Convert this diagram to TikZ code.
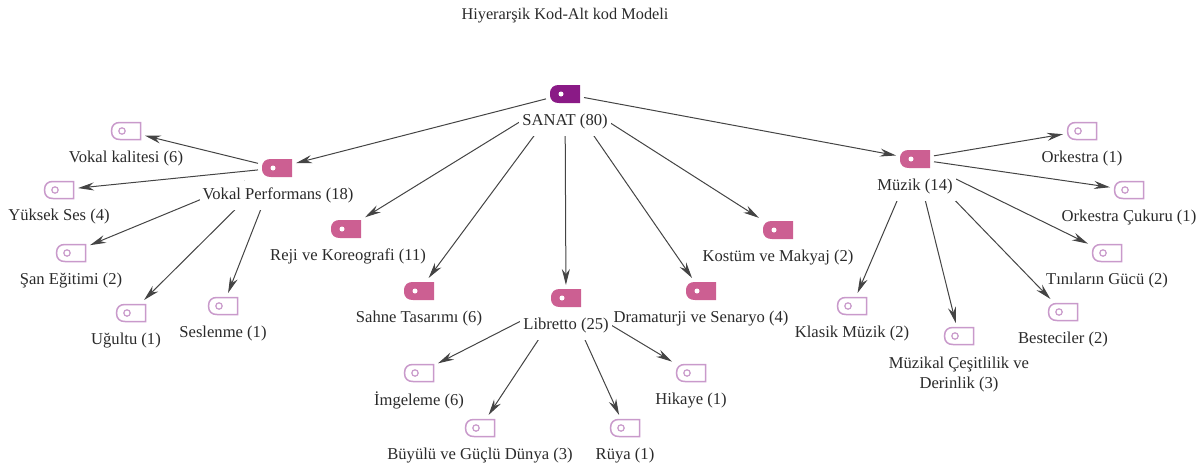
\documentclass[tikz,border=0pt]{standalone}
\usepackage{fontspec}
\setmainfont{Liberation Serif}
\usetikzlibrary{arrows.meta,backgrounds}
\definecolor{rootc}{HTML}{8A1A86}
\definecolor{midc}{HTML}{CC5F92}
\definecolor{leafc}{HTML}{C99ACB}
\definecolor{edgec}{HTML}{444444}
\definecolor{txtc}{HTML}{2A2A2A}
\tikzset{
 x=1pt,y=-1pt,
 iconbox/.style={minimum width=32pt,minimum height=20pt,inner sep=0pt,outer sep=3pt},
 lab/.style={font=\fontsize{16.6}{19.5}\selectfont,text=txtc,inner xsep=3pt,inner ysep=2pt,align=center,yshift=-1.5pt},
 parentlab/.style={lab,fill=white,inner ysep=7pt},
 edge/.style={draw=edgec,line width=1pt,-{Stealth[length=16pt,width=8pt]}},
 leaftag/.style={draw=leafc,line width=1.5pt,fill=white},
}
\newcommand{\solidtag}[4]{% name,x,y,colour
 \node[iconbox] (#1) at (#2,#3) {};
 \fill[#4] (#2-15,#3) .. controls (#2-15,#3-7) and (#2-11,#3-9) .. (#2-6,#3-9) -- (#2+15,#3-9) -- (#2+15,#3+9) -- (#2-6,#3+9) .. controls (#2-11,#3+9) and (#2-15,#3+7) .. (#2-15,#3) -- cycle;
 \fill[white] (#2-4,#3) circle (2.5);
}
\newcommand{\parentgap}[4]{\fill[white] (#1-#3,#2+#4) rectangle (#1+#3,#2+16);}
\newcommand{\outlinetag}[3]{% name,x,y
 \node[iconbox] (#1) at (#2,#3) {};
 \draw[leaftag] (#2-14.5,#3) .. controls (#2-14.5,#3-6) and (#2-11,#3-8.5) .. (#2-6,#3-8.5) -- (#2+14.5,#3-8.5) -- (#2+14.5,#3+8.5) -- (#2-6,#3+8.5) .. controls (#2-11,#3+8.5) and (#2-14.5,#3+6) .. (#2-14.5,#3) -- cycle;
 \draw[leafc,line width=1.2pt] (#2-4,#3) circle (3.2);
}
\begin{document}
\begin{tikzpicture}
\useasboundingbox (0,0) rectangle (1203,469);
\node[font=\fontsize{16.3}{19}\selectfont,text=txtc] (title) at (565,16) {Hiyerarşik Kod-Alt kod Modeli};
% white gaps between parent icons and their labels
\parentgap{565}{94}{24}{7.5}
\parentgap{277}{168}{32}{5.5}
\parentgap{566}{298}{32}{5.5}
\parentgap{915}{159}{32}{5.5}
% labels
\node[parentlab] (lS) at (565,120) {SANAT (80)};
\node[parentlab] (lV) at (278,194) {Vokal Performans (18)};
\node[lab] (lV1) at (126,157) {Vokal kalitesi (6)};
\node[lab] (lV2) at (59,215) {Yüksek Ses (4)};
\node[lab] (lV3) at (71,279) {Şan Eğitimi (2)};
\node[lab] (lV4) at (126,339) {Uğultu (1)};
\node[lab] (lV5) at (223,332) {Seslenme (1)};
\node[lab] (lR) at (348,255) {Reji ve Koreografi (11)};
\node[lab] (lSa) at (419,317) {Sahne Tasarımı (6)};
\node[parentlab] (lL) at (566,324) {Libretto (25)};
\node[lab] (lD) at (701,317) {Dramaturji ve Senaryo (4)};
\node[lab] (lK) at (778,256) {Kostüm ve Makyaj (2)};
\node[parentlab] (lM) at (915,185) {Müzik (14)};
\node[lab] (lM1) at (1082,157) {Orkestra (1)};
\node[lab] (lM2) at (1129,216) {Orkestra Çukuru (1)};
\node[lab] (lM3) at (1107,279) {Tınıların Gücü (2)};
\node[lab] (lM4) at (1063,338) {Besteciler (2)};
\node[lab] (lM5) at (959,373) {Müzikal Çeşitlilik ve\\Derinlik (3)};
\node[lab] (lM6) at (852,332) {Klasik Müzik (2)};
\node[lab] (lL1) at (419,399) {İmgeleme (6)};
\node[lab] (lL2) at (480,454) {Büyülü ve Güçlü Dünya (3)};
\node[lab] (lL3) at (625,454) {Rüya (1)};
\node[lab] (lL4) at (691,399) {Hikaye (1)};
% icons
\solidtag{S}{565}{94}{rootc}
\solidtag{V}{277}{168}{midc}
\solidtag{R}{346}{229}{midc}
\solidtag{Sa}{419}{291}{midc}
\solidtag{L}{566}{298}{midc}
\solidtag{D}{701}{291}{midc}
\solidtag{K}{778}{230}{midc}
\solidtag{M}{915}{159}{midc}
\outlinetag{V1}{126}{131}
\outlinetag{V2}{59}{190}
\outlinetag{V3}{71}{253}
\outlinetag{V4}{131}{313}
\outlinetag{V5}{223}{306}
\outlinetag{M1}{1082}{131}
\outlinetag{M2}{1129}{190}
\outlinetag{M3}{1107}{253}
\outlinetag{M4}{1063}{312}
\outlinetag{M5}{959}{336}
\outlinetag{M6}{852}{306}
\outlinetag{L1}{419}{373}
\outlinetag{L2}{480}{428}
\outlinetag{L3}{625}{428}
\outlinetag{L4}{691}{373}
% connectors
\begin{pgfonlayer}{background}
\foreach \a/\b in {S/V,S/R,S/Sa,S/L,S/D,S/K,S/M,V/V1,V/V2,V/V3,V/V4,V/V5,L/L1,L/L2,L/L3,L/L4,M/M1,M/M2,M/M3,M/M4,M/M5,M/M6}
  \draw[edge] (\a) -- (\b);
\end{pgfonlayer}
\end{tikzpicture}
\end{document}
